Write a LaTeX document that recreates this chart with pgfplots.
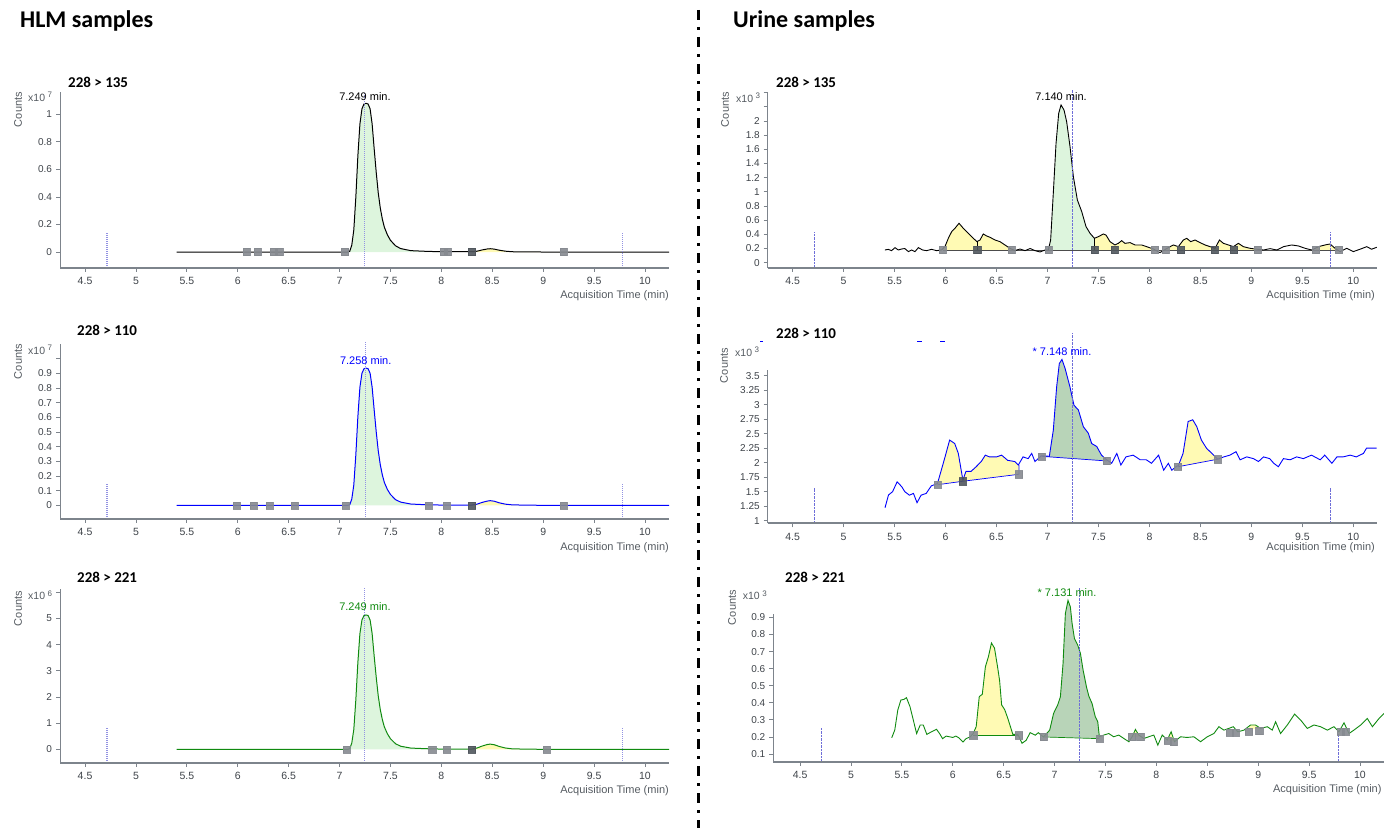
\documentclass[border=0pt]{standalone}
\usepackage{fontspec}
\setmainfont{Liberation Sans}
\newfontfamily\titlefont{Carlito}
\usepackage{pgfplots}
\usepackage{pgfplotstable}
\pgfplotsset{compat=1.18}
\usepgfplotslibrary{fillbetween}

\definecolor{axisgray}{HTML}{7D848C}
\definecolor{tickgray}{HTML}{3E4349}
\definecolor{labgray}{HTML}{555B61}
\definecolor{mkgray}{HTML}{868A90}
\definecolor{mkdark}{HTML}{50565D}
\definecolor{pkgreen}{HTML}{DDF5DD}
\definecolor{pkyellow}{HTML}{FFFAB4}
\definecolor{pkdkgreen}{HTML}{B8D4B8}
\definecolor{rtline}{HTML}{6E6ED8}
\definecolor{sigblue}{HTML}{0000FF}
\definecolor{siggreen}{HTML}{108A10}

\pgfplotsset{
  chrom/.style={
    scale only axis, clip=false, axis line style={draw=none},
    tick align=outside, tick pos=left, major tick length=4pt,
    tick style={draw=axisgray, line width=0.8pt},
    xtick={4.5,5,5.5,6,6.5,7,7.5,8,8.5,9,9.5,10},
    xticklabels={4.5,5,5.5,6,6.5,7,7.5,8,8.5,9,9.5,10},
    xticklabel style={font=\fontsize{10.5}{12}\selectfont, text=tickgray, yshift=-2pt},
    yticklabel style={font=\fontsize{10}{11}\selectfont, text=tickgray, xshift=-0.5pt},
    scaled ticks=false, minor tick num=0,
  },
  rtA/.style={draw=rtline!75, line width=1.3pt, dash pattern=on 1.2pt off 0.8pt},
  rtB/.style={draw=rtline, line width=0.7pt, dash pattern=on 2.5pt off 1pt},
  mk/.style={only marks, mark=square*, mark size=3.6pt, color=mkgray, opacity=0.9},
  mkd/.style={only marks, mark=square*, mark size=3.6pt, color=mkdark, opacity=0.9},
}

% HLM 228 > 135 (x10^7)
\pgfplotstableread{
x y
5.40 0
7.08 0
7.10 0.005
7.12 0.05
7.14 0.16
7.16 0.40
7.18 0.70
7.20 0.93
7.22 1.04
7.24 1.075
7.26 1.08
7.28 1.075
7.30 1.04
7.32 0.93
7.34 0.75
7.36 0.58
7.38 0.43
7.40 0.32
7.42 0.24
7.44 0.18
7.47 0.125
7.50 0.085
7.55 0.045
7.60 0.025
7.70 0.010
7.85 0.005
8.00 0.002
8.30 0.002
8.35 0.006
8.40 0.015
8.45 0.022
8.48 0.024
8.52 0.021
8.57 0.013
8.63 0.006
8.70 0.002
9.00 0
10.236 0
}\hlmA

% HLM 228 > 110 (x10^7)
\pgfplotstableread{
x y
5.40 0
7.08 0
7.10 0.004
7.12 0.043
7.14 0.139
7.16 0.346
7.18 0.606
7.20 0.805
7.22 0.900
7.24 0.931
7.26 0.935
7.28 0.931
7.30 0.900
7.32 0.805
7.34 0.650
7.36 0.502
7.38 0.372
7.40 0.277
7.42 0.208
7.44 0.156
7.47 0.108
7.50 0.074
7.55 0.039
7.60 0.022
7.70 0.009
7.85 0.004
8.00 0.002
8.30 0.002
8.35 0.008
8.40 0.020
8.45 0.029
8.48 0.032
8.52 0.028
8.57 0.017
8.63 0.008
8.70 0.003
9.00 0
10.236 0
}\hlmB

% HLM 228 > 221 (x10^6)
\pgfplotstableread{
x y
5.40 0
7.08 0
7.10 0.024
7.12 0.24
7.14 0.76
7.16 1.90
7.18 3.33
7.20 4.42
7.22 4.94
7.24 5.11
7.26 5.13
7.28 5.11
7.30 4.94
7.32 4.42
7.34 3.56
7.36 2.76
7.38 2.04
7.40 1.52
7.42 1.14
7.44 0.855
7.47 0.594
7.50 0.404
7.55 0.214
7.60 0.119
7.70 0.048
7.85 0.024
8.00 0.010
8.30 0.010
8.35 0.050
8.40 0.125
8.45 0.183
8.48 0.200
8.52 0.175
8.57 0.108
8.63 0.050
8.70 0.017
9.00 0
10.236 0
}\hlmC

% Urine 228 > 135 (x10^3)
\pgfplotstableread{
x y
5.405 0.179
5.438 0.188
5.470 0.170
5.504 0.212
5.536 0.179
5.569 0.193
5.600 0.200
5.635 0.156
5.667 0.179
5.700 0.156
5.733 0.212
5.775 0.179
5.814 0.170
5.863 0.188
5.912 0.170
5.960 0.179
5.994 0.226
6.027 0.344
6.060 0.438
6.092 0.485
6.132 0.556
6.174 0.485
6.223 0.414
6.272 0.344
6.308 0.297
6.338 0.320
6.370 0.405
6.403 0.377
6.436 0.358
6.485 0.320
6.534 0.297
6.583 0.250
6.632 0.203
6.680 0.170
6.730 0.193
6.780 0.170
6.830 0.200
6.877 0.170
6.927 0.151
6.976 0.179
7.008 0.179
7.031 0.320
7.057 0.980
7.084 1.685
7.110 2.108
7.133 2.226
7.162 2.155
7.188 1.990
7.221 1.638
7.254 1.214
7.293 0.885
7.336 0.720
7.378 0.509
7.417 0.415
7.460 0.344
7.499 0.367
7.548 0.405
7.574 0.390
7.613 0.297
7.662 0.250
7.695 0.273
7.728 0.311
7.760 0.273
7.810 0.283
7.859 0.250
7.924 0.250
7.973 0.226
8.039 0.193
8.104 0.142
8.170 0.200
8.235 0.250
8.284 0.226
8.333 0.320
8.366 0.344
8.405 0.297
8.448 0.320
8.497 0.283
8.546 0.250
8.595 0.226
8.644 0.203
8.687 0.320
8.726 0.273
8.775 0.250
8.824 0.226
8.873 0.273
8.922 0.226
8.987 0.203
9.053 0.190
9.118 0.179
9.184 0.198
9.250 0.179
9.315 0.226
9.396 0.250
9.462 0.236
9.527 0.203
9.593 0.179
9.658 0.226
9.723 0.250
9.772 0.264
9.821 0.203
9.870 0.156
9.936 0.203
10.000 0.156
10.067 0.190
10.132 0.226
10.180 0.190
10.230 0.217
}\urA

% Urine 228 > 110 (x10^3)
\pgfplotstableread{
x y
5.406 1.224
5.440 1.443
5.480 1.500
5.525 1.670
5.570 1.586
5.600 1.500
5.645 1.440
5.685 1.470
5.720 1.310
5.760 1.440
5.810 1.470
5.860 1.600
5.920 1.640
5.945 1.790
5.995 2.100
6.040 2.390
6.090 2.330
6.125 2.160
6.170 1.700
6.200 1.850
6.250 1.850
6.300 1.930
6.350 2.020
6.390 2.130
6.430 2.100
6.500 2.100
6.550 2.130
6.610 2.040
6.680 2.020
6.714 1.960
6.760 2.100
6.810 2.070
6.845 2.160
6.877 2.020
6.940 2.120
7.018 2.110
7.057 2.560
7.090 3.310
7.116 3.710
7.142 3.780
7.172 3.630
7.220 3.310
7.260 2.990
7.303 2.910
7.352 2.620
7.400 2.510
7.434 2.330
7.483 2.280
7.530 2.130
7.580 2.050
7.630 1.990
7.680 2.160
7.720 1.960
7.770 2.100
7.840 2.130
7.910 2.050
7.970 2.050
8.020 1.990
8.090 2.130
8.140 1.870
8.186 1.990
8.220 1.870
8.260 1.930
8.284 1.950
8.330 2.160
8.380 2.710
8.425 2.740
8.465 2.620
8.510 2.390
8.560 2.250
8.630 2.130
8.670 2.060
8.730 2.100
8.790 2.130
8.850 2.190
8.890 2.050
8.955 2.100
9.020 2.070
9.070 2.020
9.120 2.100
9.180 2.070
9.220 1.990
9.265 1.930
9.315 2.070
9.380 2.050
9.445 2.100
9.510 2.070
9.590 2.130
9.675 2.050
9.720 2.130
9.790 1.990
9.840 2.100
9.900 2.100
9.970 2.130
10.030 2.100
10.100 2.160
10.130 2.250
10.170 2.250
10.230 2.250
}\urB

% Urine 228 > 221 (x10^3)
\pgfplotstableread{
x y
5.400 0.195
5.430 0.240
5.460 0.358
5.490 0.416
5.520 0.420
5.545 0.430
5.580 0.377
5.620 0.280
5.645 0.220
5.680 0.270
5.710 0.270
5.745 0.215
5.790 0.230
5.840 0.245
5.870 0.220
5.900 0.190
5.935 0.205
6.000 0.197
6.030 0.205
6.060 0.195
6.100 0.170
6.130 0.190
6.170 0.200
6.200 0.220
6.230 0.260
6.260 0.436
6.290 0.450
6.320 0.610
6.350 0.670
6.380 0.750
6.410 0.720
6.440 0.610
6.460 0.530
6.480 0.387
6.510 0.360
6.540 0.310
6.590 0.215
6.640 0.215
6.680 0.163
6.720 0.180
6.760 0.225
6.810 0.210
6.840 0.225
6.890 0.200
6.952 0.240
6.990 0.338
7.030 0.387
7.057 0.435
7.083 0.630
7.106 0.923
7.132 1.000
7.155 0.962
7.172 0.865
7.195 0.777
7.227 0.738
7.254 0.689
7.280 0.592
7.313 0.494
7.336 0.440
7.368 0.396
7.400 0.318
7.424 0.289
7.440 0.201
7.483 0.211
7.532 0.220
7.580 0.201
7.630 0.211
7.680 0.191
7.730 0.172
7.762 0.201
7.794 0.244
7.827 0.211
7.876 0.191
7.925 0.201
7.975 0.211
8.014 0.152
8.057 0.211
8.106 0.182
8.145 0.230
8.178 0.172
8.237 0.201
8.300 0.197
8.368 0.201
8.434 0.172
8.500 0.201
8.565 0.220
8.614 0.260
8.663 0.240
8.712 0.250
8.755 0.260
8.800 0.230
8.860 0.240
8.925 0.270
8.974 0.270
9.024 0.250
9.090 0.260
9.138 0.240
9.171 0.289
9.220 0.220
9.286 0.270
9.358 0.334
9.417 0.299
9.482 0.250
9.548 0.270
9.613 0.260
9.679 0.240
9.745 0.260
9.793 0.230
9.843 0.283
9.892 0.220
9.940 0.240
10.007 0.270
10.072 0.308
10.122 0.260
10.187 0.308
10.236 0.338
}\urC

\begin{document}
\begin{tikzpicture}

% ---------- HLM 228 > 135 ----------
\begin{axis}[chrom, at={(60pt,560pt)}, anchor=south west,
  width=609pt, height=176pt, xmin=4.254, xmax=10.236, ymin=-0.116, ymax=1.162,
  ytick={0,0.2,0.4,0.6,0.8,1}, yticklabels={0,0.2,0.4,0.6,0.8,1}]
\addplot[draw=none, name path=s] table {\hlmA};
\addplot[draw=none, name path=z] coordinates {(5.4,0) (10.236,0)};
\addplot[fill=pkgreen, draw=none] fill between[of=s and z, soft clip={domain=7.05:8.03}];
\addplot[fill=pkyellow, draw=none] fill between[of=s and z, soft clip={domain=8.30:9.20}];
\addplot[black, line width=1pt] table {\hlmA};
\addplot[rtA] coordinates {(4.716,-0.116) (4.716,0.145)};
\addplot[rtA] coordinates {(9.78,-0.116) (9.78,0.145)};
\addplot[rtA, line width=0.9pt] coordinates {(7.249,-0.116) (7.249,1.162)};
\addplot[mk] coordinates {(6.088,0) (6.192,0) (6.35,0) (6.408,0) (7.054,0) (8.02,0) (8.063,0) (9.2,0)};
\addplot[mkd] coordinates {(8.30,0)};
\draw[axisgray, line width=1.6pt] (rel axis cs:0,0) -- (rel axis cs:1,0);
\draw[axisgray, line width=1pt] (axis cs:4.254,-0.116) -- (axis cs:4.254,1.162);
\end{axis}

% ---------- HLM 228 > 110 ----------
\begin{axis}[chrom, at={(60pt,309pt)}, anchor=south west,
  width=609pt, height=177pt, xmin=4.254, xmax=10.236, ymin=-0.093, ymax=1.113,
  ytick={0,0.1,0.2,0.3,0.4,0.5,0.6,0.7,0.8,0.9,1.0},
  yticklabels={0,0.1,0.2,0.3,0.4,0.5,0.6,0.7,0.8,0.9,{}}]
\addplot[draw=none, name path=s] table {\hlmB};
\addplot[draw=none, name path=z] coordinates {(5.4,0) (10.236,0)};
\addplot[fill=pkgreen, draw=none] fill between[of=s and z, soft clip={domain=7.05:7.87}];
\addplot[fill=pkyellow, draw=none] fill between[of=s and z, soft clip={domain=8.30:9.20}];
\addplot[sigblue, line width=1pt] table {\hlmB};
\addplot[rtA] coordinates {(4.716,-0.093) (4.716,0.145)};
\addplot[rtA] coordinates {(9.78,-0.093) (9.78,0.145)};
\addplot[rtA, line width=0.9pt] coordinates {(7.252,-0.093) (7.252,1.113)};
\addplot[mk] coordinates {(5.99,0) (6.153,0) (6.31,0) (6.556,0) (7.058,0) (7.872,0) (8.053,0) (9.2,0)};
\addplot[mkd] coordinates {(8.30,0)};
\draw[axisgray, line width=1.6pt] (rel axis cs:0,0) -- (rel axis cs:1,0);
\draw[axisgray, line width=1pt] (axis cs:4.254,-0.093) -- (axis cs:4.254,1.10);
\end{axis}

% ---------- HLM 228 > 221 ----------
\begin{axis}[chrom, at={(60pt,65.3pt)}, anchor=south west,
  width=609pt, height=174.7pt, xmin=4.254, xmax=10.236, ymin=-0.51, ymax=6.16,
  ytick={0,1,2,3,4,5,6}, yticklabels={0,1,2,3,4,5,{}}]
\addplot[draw=none, name path=s] table {\hlmC};
\addplot[draw=none, name path=z] coordinates {(5.4,0) (10.236,0)};
\addplot[fill=pkgreen, draw=none] fill between[of=s and z, soft clip={domain=7.07:7.91}];
\addplot[fill=pkyellow, draw=none] fill between[of=s and z, soft clip={domain=8.30:9.03}];
\addplot[siggreen, line width=1pt] table {\hlmC};
\addplot[rtA] coordinates {(4.716,-0.51) (4.716,0.8)};
\addplot[rtA] coordinates {(9.78,-0.51) (9.78,0.8)};
\addplot[rtA, line width=0.9pt] coordinates {(7.249,-0.51) (7.249,6.16)};
\addplot[mk] coordinates {(7.07,0) (7.91,0) (8.053,0) (9.035,0)};
\addplot[mkd] coordinates {(8.30,0)};
\draw[axisgray, line width=1.6pt] (rel axis cs:0,0) -- (rel axis cs:1,0);
\draw[axisgray, line width=1pt] (axis cs:4.254,-0.51) -- (axis cs:4.254,6.12);
\end{axis}

% ---------- Urine 228 > 135 ----------
\begin{axis}[chrom, at={(767.7pt,560pt)}, anchor=south west,
  width=609.3pt, height=178pt, xmin=4.255, xmax=10.233, ymin=-0.075, ymax=2.437,
  ytick={0,0.2,0.4,0.6,0.8,1,1.2,1.4,1.6,1.8,2,2.2,2.4},
  yticklabels={0,0.2,0.4,0.6,0.8,1,1.2,1.4,1.6,1.8,2,{},{}}]
\addplot[draw=none, name path=s] table {\urA};
\addplot[draw=none, name path=b] coordinates {(5.97,0.18) (9.86,0.18)};
\addplot[fill=pkyellow, draw=none] fill between[of=s and b, soft clip={domain=5.97:6.65}];
\addplot[fill=pkgreen, draw=none] fill between[of=s and b, soft clip={domain=7.01:7.46}];
\addplot[fill=pkyellow, draw=none] fill between[of=s and b, soft clip={domain=7.46:8.055}];
\addplot[fill=pkyellow, draw=none] fill between[of=s and b, soft clip={domain=8.16:9.06}];
\addplot[fill=pkyellow, draw=none] fill between[of=s and b, soft clip={domain=9.635:9.86}];
\addplot[black!70, line width=0.8pt] coordinates {(5.97,0.18) (9.86,0.18)};
\addplot[black, line width=0.7pt] coordinates {(6.31,0.18) (6.31,0.30)};
\addplot[black, line width=0.7pt] coordinates {(7.46,0.18) (7.46,0.344)};
\addplot[black, line width=0.9pt] table {\urA};
\addplot[rtB] coordinates {(4.712,-0.075) (4.712,0.43)};
\addplot[rtB] coordinates {(9.773,-0.075) (9.773,0.43)};
\addplot[rtB] coordinates {(7.244,-0.075) (7.244,2.437)};
\addplot[mk] coordinates {(5.97,0.18) (6.65,0.18) (7.01,0.18) (8.055,0.18) (8.16,0.18) (9.06,0.18) (9.635,0.18) (9.86,0.18)};
\addplot[mkd] coordinates {(6.31,0.18) (7.46,0.18) (7.66,0.18) (8.31,0.18) (8.64,0.18) (8.83,0.18)};
\draw[axisgray, line width=1.6pt] (rel axis cs:0,0) -- (rel axis cs:1,0);
\draw[axisgray, line width=1pt] (axis cs:4.255,-0.075) -- (axis cs:4.255,2.41);
\end{axis}

% ---------- Urine 228 > 110 ----------
\begin{axis}[chrom, at={(767.7pt,304.7pt)}, anchor=south west,
  width=609.3pt, height=190.3pt, xmin=4.255, xmax=10.233, ymin=0.955, ymax=4.236,
  ytick={1,1.25,1.5,1.75,2,2.25,2.5,2.75,3,3.25,3.5},
  yticklabels={1,1.25,1.5,1.75,2,2.25,2.5,2.75,3,3.25,3.5}]
\addplot[draw=none, name path=s] table {\urB};
\addplot[draw=none, name path=b1] coordinates {(5.92,1.62) (6.17,1.68) (6.72,1.80)};
\addplot[draw=none, name path=b2] coordinates {(6.94,2.11) (7.58,2.03)};
\addplot[draw=none, name path=b3] coordinates {(8.28,1.93) (8.67,2.06)};
\addplot[fill=pkyellow, draw=none] fill between[of=s and b1, soft clip={domain=5.92:6.72}];
\addplot[fill=pkdkgreen, draw=none] fill between[of=s and b2, soft clip={domain=6.94:7.58}];
\addplot[fill=pkyellow, draw=none] fill between[of=s and b3, soft clip={domain=8.28:8.67}];
\addplot[sigblue, line width=0.7pt] coordinates {(5.92,1.62) (6.17,1.68) (6.72,1.80) (6.72,1.96)};
\addplot[sigblue, line width=0.7pt] coordinates {(6.94,2.11) (7.58,2.03)};
\addplot[sigblue, line width=0.7pt] coordinates {(8.28,1.93) (8.67,2.06)};
\addplot[sigblue, line width=0.9pt] table {\urB};
\addplot[rtB] coordinates {(4.712,0.955) (4.712,1.56)};
\addplot[rtB] coordinates {(9.773,0.955) (9.773,1.56)};
\addplot[rtB] coordinates {(7.244,0.955) (7.244,4.236)};
\addplot[mk] coordinates {(5.92,1.62) (6.72,1.80) (6.94,2.11) (7.58,2.03) (8.28,1.93) (8.67,2.06)};
\addplot[mkd] coordinates {(6.17,1.68)};
\draw[axisgray, line width=1.6pt] (rel axis cs:0,0) -- (rel axis cs:1,0);
\draw[axisgray, line width=1pt] (axis cs:4.255,0.955) -- (axis cs:4.255,3.6);
\end{axis}

% ---------- Urine 228 > 221 ----------
\begin{axis}[chrom, at={(773.3pt,66.3pt)}, anchor=south west,
  width=610.7pt, height=175pt, xmin=4.237, xmax=10.236, ymin=0.055, ymax=1.08,
  ytick={0.1,0.2,0.3,0.4,0.5,0.6,0.7,0.8,0.9},
  yticklabels={0.1,0.2,0.3,0.4,0.5,0.6,0.7,0.8,0.9}]
\addplot[draw=none, name path=s] table {\urC};
\addplot[draw=none, name path=b1] coordinates {(6.20,0.21) (6.65,0.21)};
\addplot[draw=none, name path=b2] coordinates {(6.89,0.20) (7.44,0.19)};
\addplot[draw=none, name path=b3] coordinates {(7.76,0.20) (7.84,0.20)};
\addplot[draw=none, name path=b4] coordinates {(8.11,0.18) (8.17,0.175)};
\addplot[draw=none, name path=b5] coordinates {(8.91,0.245) (9.01,0.25)};
\addplot[fill=pkyellow, draw=none] fill between[of=s and b1, soft clip={domain=6.20:6.65}];
\addplot[fill=pkdkgreen, draw=none] fill between[of=s and b2, soft clip={domain=6.89:7.44}];
\addplot[fill=pkyellow, draw=none] fill between[of=s and b3, soft clip={domain=7.76:7.84}];
\addplot[fill=pkyellow, draw=none] fill between[of=s and b4, soft clip={domain=8.11:8.17}];
\addplot[fill=pkyellow, draw=none] fill between[of=s and b5, soft clip={domain=8.91:9.01}];
\addplot[siggreen, line width=0.7pt] coordinates {(6.20,0.21) (6.65,0.21)};
\addplot[siggreen, line width=0.7pt] coordinates {(6.89,0.20) (7.44,0.19)};
\addplot[siggreen, line width=0.9pt] table {\urC};
\addplot[rtB] coordinates {(4.706,0.055) (4.706,0.26)};
\addplot[rtB] coordinates {(9.79,0.055) (9.79,0.22)};
\addplot[rtB] coordinates {(7.24,0.055) (7.24,1.08)};
\addplot[mk] coordinates {(6.20,0.21) (6.65,0.21) (6.89,0.20) (7.44,0.19) (7.76,0.20) (7.84,0.20) (8.11,0.18) (8.17,0.17) (8.72,0.225) (8.78,0.225) (8.91,0.23) (9.01,0.235) (9.81,0.23) (9.86,0.23)};
\draw[axisgray, line width=1.6pt] (rel axis cs:0,0) -- (rel axis cs:1,0);
\draw[axisgray, line width=1pt] (axis cs:4.237,0.055) -- (axis cs:4.237,0.923);
\end{axis}

% ---------- text and decoration (pixel coordinates, y downward) ----------
\begin{scope}[shift={(0pt,828pt)}, yscale=-1]
  \draw[black, line width=3pt, dash pattern=on 10pt off 7pt on 3pt off 7pt] (698pt,10pt) -- (698pt,828pt);
  \node[anchor=base west, inner sep=0pt, font=\titlefont\bfseries\fontsize{24}{28}\selectfont] at (20pt,28pt) {HLM samples};
  \node[anchor=base west, inner sep=0pt, font=\titlefont\bfseries\fontsize{24}{28}\selectfont] at (733pt,28pt) {Urine samples};
  \foreach \x/\y/\t in {68/87.5/228 > 135, 77/335.5/228 > 110, 77/582.5/228 > 221, 776/87.5/228 > 135, 776/338.5/228 > 110, 785/582.5/228 > 221}
    \node[anchor=base west, inner sep=0pt, font=\titlefont\bfseries\fontsize{15}{18}\selectfont] at (\x pt,\y pt) {\t};
  \foreach \x/\y in {18/92, 18/344, 18/591, 725/92, 724/348, 732/590}
    \node[rotate=90, anchor=east, inner sep=0pt, text=labgray, font=\fontsize{11}{13}\selectfont] at (\x pt,\y pt) {Counts};
  \foreach \x/\y/\e in {28/101.5/7, 28/354.5/7, 28/599.5/6, 736/102.5/3, 735/356.5/3, 742.7/599.5/3}
    \node[anchor=base west, inner sep=0pt, text=labgray, font=\fontsize{10.5}{12}\selectfont] at (\x pt,\y pt) {x10\hspace{2.5pt}\raisebox{3.5pt}{\fontsize{8}{9}\selectfont\e}};
  \foreach \x/\y in {669/298.5, 669/551, 669/793.5, 1375/298.5, 1375/551, 1381.7/792.5}
    \node[anchor=base east, inner sep=0pt, text=labgray, font=\fontsize{11}{13}\selectfont] at (\x pt,\y pt) {Acquisition Time (min)};
  \node[anchor=base, inner sep=0pt, font=\fontsize{11}{13}\selectfont] at (365pt,100.5pt) {7.249 min.};
  \node[anchor=base, inner sep=0pt, text=sigblue, font=\fontsize{11}{13}\selectfont] at (365.7pt,365pt) {7.258 min.};
  \node[anchor=base, inner sep=0pt, text=siggreen, font=\fontsize{11}{13}\selectfont] at (365pt,610.5pt) {7.249 min.};
  \node[anchor=base, inner sep=0pt, font=\fontsize{11}{13}\selectfont] at (1061pt,101pt) {7.140 min.};
  \node[anchor=base, inner sep=0pt, text=sigblue, font=\fontsize{11}{13}\selectfont] at (1062pt,355.5pt) {* 7.148 min.};
  \node[anchor=base, inner sep=0pt, text=siggreen, font=\fontsize{11}{13}\selectfont] at (1067pt,596.5pt) {* 7.131 min.};
  \draw[sigblue, line width=1pt] (760pt,342pt) -- (763pt,342pt);
  \draw[sigblue, line width=1pt] (917pt,342pt) -- (922pt,342pt);
  \draw[sigblue, line width=1pt] (940pt,342pt) -- (945pt,342pt);
\end{scope}

\pgfresetboundingbox
\path (0pt,0pt) rectangle (1384pt,828pt);
\end{tikzpicture}
\end{document}
